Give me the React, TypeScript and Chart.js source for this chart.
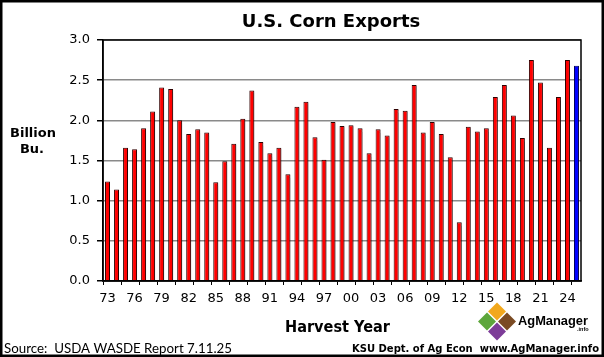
import React, { useEffect, useRef } from 'react';
import { Chart, registerables } from 'chart.js';

Chart.register(...registerables);

const years: string[] = [
  '73', '74', '75', '76', '77', '78', '79', '80', '81', '82',
  '83', '84', '85', '86', '87', '88', '89', '90', '91', '92',
  '93', '94', '95', '96', '97', '98', '99', '00', '01', '02',
  '03', '04', '05', '06', '07', '08', '09', '10', '11', '12',
  '13', '14', '15', '16', '17', '18', '19', '20', '21', '22',
  '23', '24', '25',
];

const exports: number[] = [
  1.24, 1.14, 1.66, 1.64, 1.90, 2.11, 2.41, 2.39, 2.00, 1.83,
  1.89, 1.85, 1.23, 1.49, 1.71, 2.02, 2.37, 1.73, 1.59, 1.66,
  1.33, 2.17, 2.23, 1.79, 1.51, 1.98, 1.93, 1.94, 1.90, 1.59,
  1.89, 1.81, 2.14, 2.12, 2.44, 1.85, 1.98, 1.83, 1.54, 0.73,
  1.92, 1.86, 1.90, 2.29, 2.44, 2.06, 1.78, 2.75, 2.47, 1.66,
  2.29, 2.75, 2.68,
];

const yTicks: number[] = [0, 0.5, 1.0, 1.5, 2.0, 2.5, 3.0];

const RED = '#ff0000';
const BLUE = '#0000ff';

const shadowPlugin = {
  id: 'barShadow',
  beforeDatasetsDraw(chart: any) {
    const ctx = chart.ctx;
    ctx.save();
    ctx.shadowColor = 'rgba(0,0,0,0.3)';
    ctx.shadowOffsetX = 1.5;
    ctx.shadowOffsetY = 1;
    ctx.shadowBlur = 1;
  },
  afterDatasetsDraw(chart: any) {
    chart.ctx.restore();
  },
};

const bgPlugin = {
  id: 'bg',
  beforeDraw(chart: any) {
    const ctx = chart.ctx;
    ctx.save();
    ctx.fillStyle = '#ffffff';
    ctx.fillRect(0, 0, chart.width, chart.height);
    ctx.restore();
  },
};

function diamond(ctx: CanvasRenderingContext2D, cx: number, cy: number, r: number, color: string) {
  ctx.beginPath();
  ctx.moveTo(cx, cy - r);
  ctx.lineTo(cx + r, cy);
  ctx.lineTo(cx, cy + r);
  ctx.lineTo(cx - r, cy);
  ctx.closePath();
  ctx.fillStyle = color;
  ctx.fill();
}

const decorPlugin = {
  id: 'decor',
  afterDraw(chart: any) {
    const ctx: CanvasRenderingContext2D = chart.ctx;
    const a = chart.chartArea;
    ctx.save();
    // plot frame
    ctx.strokeStyle = '#000';
    ctx.lineWidth = 1.5;
    ctx.strokeRect(a.left, a.top, a.right - a.left, a.bottom - a.top);
    // outer border
    ctx.lineWidth = 2.5;
    ctx.strokeRect(1.25, 1.25, chart.width - 2.5, chart.height - 2.5);

    ctx.fillStyle = '#000';
    ctx.textBaseline = 'alphabetic';
    // title
    ctx.textAlign = 'center';
    ctx.font = 'bold 18px "DejaVu Sans"';
    ctx.fillText('U.S. Corn Exports', 331, 26.5);
    // y title
    ctx.font = 'bold 13px "DejaVu Sans"';
    ctx.fillText('Billion', 33, 137);
    ctx.fillText('Bu.', 32, 153);
    // x title
    ctx.font = 'bold 16px "DejaVu Sans"';
    ctx.fillText('Harvest Year', 337.5, 331.5, 105);
    // source
    ctx.textAlign = 'left';
    ctx.font = '14px Lato';
    ctx.fillText('Source:  USDA WASDE Report 7.11.25', 4, 353, 228);
    ctx.textAlign = 'right';
    ctx.font = 'bold 10px "DejaVu Sans"';
    ctx.fillText('KSU Dept. of Ag Econ  www.AgManager.info', 599, 352, 256);
    // logo
    const cx = 497;
    const cy = 321.5;
    const d = 10;
    diamond(ctx, cx, cy - d, 9, '#f2a81d');
    diamond(ctx, cx - d, cy, 9, '#5da63b');
    diamond(ctx, cx + d, cy, 9, '#7a4a23');
    diamond(ctx, cx, cy + d, 9, '#7d3c98');
    ctx.textAlign = 'left';
    ctx.fillStyle = '#000';
    ctx.font = 'bold 13px "Liberation Sans"';
    ctx.fillText('AgManager', 518, 324.5, 70);
    ctx.font = 'bold 5.5px "Liberation Sans"';
    ctx.fillText('.info', 577, 331);
    ctx.restore();
  },
};

export default function App() {
  const canvasRef = useRef<HTMLCanvasElement | null>(null);

  useEffect(() => {
    const canvas = canvasRef.current;
    if (!canvas) return;
    const colors = exports.map((_, i) => (i === exports.length - 1 ? BLUE : RED));
    const borders = exports.map((_, i) => (i === exports.length - 1 ? '#000060' : '#300000'));
    const chart = new Chart(canvas, {
      type: 'bar',
      data: {
        labels: years,
        datasets: [
          {
            data: exports,
            backgroundColor: colors,
            borderColor: borders,
            borderWidth: 1,
            barPercentage: 0.55,
            categoryPercentage: 1,
          },
        ],
      },
      options: {
        animation: false,
        responsive: true,
        maintainAspectRatio: false,
        layout: { padding: { top: 40, right: 23, left: 0, bottom: 0 } },
        plugins: {
          legend: { display: false },
          tooltip: { enabled: false },
          title: { display: false },
        },
        scales: {
          x: {
            afterFit(scale: any) {
              scale.height = 76;
            },
            grid: {
              offset: true,
              drawOnChartArea: false,
              drawTicks: true,
              tickLength: 4,
              color: (c: any) => (c.index % 2 === 0 ? '#000' : 'rgba(0,0,0,0)'),
              tickColor: (c: any) => (c.index % 2 === 0 ? '#000' : 'rgba(0,0,0,0)'),
              lineWidth: 1,
            },
            border: { display: true, color: '#000', width: 1.5 },
            ticks: {
              autoSkip: false,
              maxRotation: 0,
              minRotation: 0,
              padding: 6,
              color: '#000',
              font: { family: '"DejaVu Sans"', size: 13 },
              callback: (_v: any, i: number) => (i % 3 === 0 ? years[i] : ''),
            },
          },
          y: {
            min: 0,
            max: 3,
            afterFit(scale: any) {
              scale.width = 103;
            },
            afterBuildTicks(scale: any) {
              scale.ticks = yTicks.map((v) => ({ value: v }));
            },
            grid: {
              color: '#8a8a8a',
              lineWidth: 1.5,
              tickColor: '#000',
              tickLength: 6,
              drawTicks: true,
            },
            border: { display: true, color: '#000', width: 1.5 },
            ticks: {
              padding: 7,
              color: '#000',
              font: { family: '"DejaVu Sans"', size: 13 },
              callback: (v: any) => Number(v).toFixed(1),
            },
          },
        },
      },
      plugins: [bgPlugin, shadowPlugin, decorPlugin],
    });
    return () => chart.destroy();
  }, []);

  return (
    <div style={{ position: 'absolute', left: 0, top: 0, width: 604, height: 357 }}>
      <canvas ref={canvasRef} />
    </div>
  );
}
